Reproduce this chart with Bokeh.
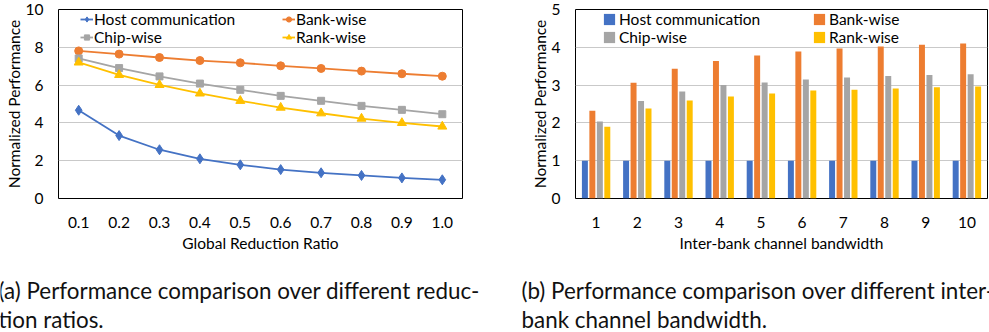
from bokeh.plotting import figure
from bokeh.layouts import row, column
from bokeh.models import Legend, LegendItem, Label, FactorRange, Range1d, FixedTicker, ColumnDataSource
from bokeh.transform import dodge
from bokeh.embed import file_html
from bokeh.resources import INLINE

# ---------------- data ----------------
ratios = ["0.1", "0.2", "0.3", "0.4", "0.5", "0.6", "0.7", "0.8", "0.9", "1.0"]
host_a = [4.67, 3.33, 2.58, 2.10, 1.78, 1.53, 1.36, 1.22, 1.09, 0.99]
bank_a = [7.81, 7.64, 7.46, 7.30, 7.18, 7.02, 6.88, 6.74, 6.60, 6.47]
chip_a = [7.41, 6.90, 6.46, 6.08, 5.75, 5.43, 5.17, 4.90, 4.69, 4.46]
rank_a = [7.20, 6.54, 6.01, 5.56, 5.17, 4.81, 4.51, 4.23, 4.00, 3.81]

bandwidths = ["1", "2", "3", "4", "5", "6", "7", "8", "9", "10"]
host_b = [1.00, 1.00, 1.00, 1.00, 1.00, 1.00, 1.00, 1.00, 1.00, 1.00]
bank_b = [2.32, 3.06, 3.43, 3.64, 3.78, 3.89, 3.97, 4.02, 4.07, 4.10]
chip_b = [2.04, 2.58, 2.83, 3.00, 3.07, 3.15, 3.20, 3.24, 3.27, 3.29]
rank_b = [1.90, 2.38, 2.59, 2.70, 2.78, 2.86, 2.88, 2.91, 2.94, 2.96]

series_names = ["Host communication", "Bank-wise", "Chip-wise", "Rank-wise"]
colors = ["#4472C4", "#ED7D31", "#A5A5A5", "#FFC000"]

y_ticks_a = [0, 2, 4, 6, 8, 10]
y_ticks_b = [0, 1, 2, 3, 4, 5]

caption_a = ["(a) Performance comparison over different reduc-", "tion ratios."]
caption_b = ["(b) Performance comparison over different inter-", "bank channel bandwidth."]

FONT = "Lato"
CAP_FONT = "Lato"


def style(p, xlabel, yticks):
    p.outline_line_color = "#000000"
    p.outline_line_width = 1
    p.outline_line_alpha = 1
    p.xgrid.grid_line_color = None
    p.ygrid.grid_line_color = "#C9C9C9"
    p.ygrid.grid_line_width = 1
    p.yaxis.ticker = FixedTicker(ticks=yticks)
    for ax in (p.xaxis[0], p.yaxis[0]):
        ax.axis_line_color = None
        ax.major_tick_line_color = None
        ax.minor_tick_line_color = None
        ax.major_label_text_font = FONT
        ax.major_label_text_font_size = "15.5px"
        ax.major_label_text_color = "#000000"
        ax.axis_label_text_font = FONT
        ax.axis_label_text_font_size = "15.5px"
        ax.axis_label_text_font_style = "normal"
        ax.axis_label_text_color = "#000000"
    p.xaxis.axis_label = xlabel
    p.yaxis.axis_label = "Normalized Performance"
    p.xaxis.major_label_standoff = 12
    p.xaxis.axis_label_standoff = 3
    p.yaxis.major_label_standoff = 9
    p.yaxis.axis_label_standoff = 0
    p.background_fill_color = "white"
    p.border_fill_color = "white"


def legends(p, items, x0, y_top_row, y_bottom_row, gw, gh, lw, standoff):
    for (its, yy) in ((items[0:2], y_top_row), (items[2:4], y_bottom_row)):
        lg = Legend(items=its, orientation="horizontal", location=(x0, yy),
                    glyph_width=gw, glyph_height=gh, label_height=18, label_width=lw,
                    label_standoff=standoff, spacing=0, padding=0, margin=0,
                    border_line_color=None, background_fill_alpha=0,
                    label_text_font=FONT, label_text_font_size="15.5px",
                    label_text_color="#000000")
        p.add_layout(lg)


def caption_fig(width, lines, x):
    c = figure(width=width, height=70, x_range=Range1d(0, 1), y_range=Range1d(0, 1),
               output_backend="svg", toolbar_location=None, min_border=0,
               x_axis_type=None, y_axis_type=None)
    c.outline_line_color = None
    c.background_fill_color = "white"
    c.border_fill_color = "white"
    for t, yy in zip(lines, (42, 13)):
        c.add_layout(Label(x=x, y=yy, x_units="screen", y_units="screen", text=t,
                           text_font=CAP_FONT, text_font_size="22.4px",
                           text_color="#111111", text_baseline="alphabetic",
                           text_align="left"))
    return c


# ---------------- (a) line chart ----------------
p1 = figure(width=500, height=262, x_range=FactorRange(factors=ratios, range_padding=0),
            y_range=Range1d(0, 10), output_backend="svg", toolbar_location=None,
            min_border_left=58, min_border_right=38, min_border_top=9, min_border_bottom=64)
style(p1, "Global Reduction Ratio", y_ticks_a)

src_a = ColumnDataSource(dict(x=ratios, host=host_a, bank=bank_a, chip=chip_a, rank=rank_a))
markers = ["diamond", "circle", "square", "triangle"]
msizes = [10, 8, 7, 9]
keys = ["host", "bank", "chip", "rank"]
items_a = []
for name, key, c, m, s in zip(series_names, keys, colors, markers, msizes):
    rl = p1.line("x", key, source=src_a, line_color=c, line_width=1.8)
    rm = p1.scatter("x", key, source=src_a, marker=m, size=s, fill_color=c, line_color=c)
    items_a.append(LegendItem(label=name, renderers=[rl, rm]))
legends(p1, items_a, 22, 170, 152, 13, 18, 188, 1)

# ---------------- (b) bar chart ----------------
p2 = figure(width=489, height=262, x_range=FactorRange(factors=bandwidths, range_padding=0),
            y_range=Range1d(0, 5), output_backend="svg", toolbar_location=None,
            min_border_left=75, min_border_right=2, min_border_top=9, min_border_bottom=64)
style(p2, "Inter-bank channel bandwidth", y_ticks_b)

src_b = ColumnDataSource(dict(x=bandwidths, host=host_b, bank=bank_b, chip=chip_b, rank=rank_b))
offsets = [-0.272, -0.091, 0.091, 0.272]
items_b = []
for name, key, c, off in zip(series_names, keys, colors, offsets):
    rb = p2.vbar(x=dodge("x", off, range=p2.x_range), top=key, width=0.145, source=src_b,
                 fill_color=c, line_color=None)
    items_b.append(LegendItem(label=name, renderers=[rb]))
legends(p2, items_b, 27, 170, 152, 14, 14, 193, 3)

c1 = caption_fig(500, caption_a, -2)
c2 = caption_fig(489, caption_b, 21)

layout = column(row(p1, p2, spacing=0), row(c1, c2, spacing=0), spacing=0)
open("out.html", "w").write(file_html(layout, INLINE))
